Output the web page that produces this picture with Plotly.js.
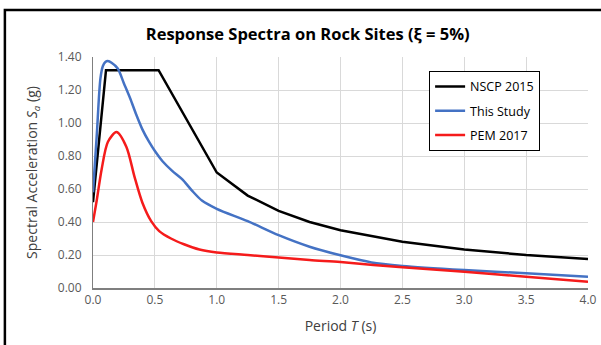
<!DOCTYPE html>
<html>
<head>
<meta charset="utf-8">
<script src="https://cdn.plot.ly/plotly-3.0.1.min.js"></script>
<style>html,body{margin:0;padding:0;background:#fff;}#chart{width:601px;height:345px;}</style>
</head>
<body>
<div id="chart"></div>
<script>
var nscpT  = [0, 0.105, 0.53, 1.0, 1.25, 1.5, 1.75, 2.0, 2.5, 3.0, 3.5, 4.0];
var nscpSa = [0.52, 1.32, 1.32, 0.70, 0.56, 0.467, 0.40, 0.35, 0.28, 0.233, 0.20, 0.176];

var studyT  = [0, 0.03, 0.06, 0.08, 0.10, 0.12, 0.15, 0.20, 0.25, 0.30, 0.35, 0.40, 0.45, 0.50, 0.56, 0.64, 0.72, 0.80, 0.88, 1.0, 1.25, 1.5, 1.75, 2.0, 2.25, 2.5, 3.0, 3.5, 4.0];
var studySa = [0.58, 0.92, 1.27, 1.345, 1.37, 1.375, 1.365, 1.33, 1.24, 1.15, 1.05, 0.96, 0.89, 0.83, 0.77, 0.71, 0.66, 0.59, 0.53, 0.48, 0.405, 0.32, 0.25, 0.198, 0.155, 0.134, 0.109, 0.089, 0.068];

var pemT  = [0, 0.03, 0.07, 0.12, 0.19, 0.27, 0.335, 0.40, 0.47, 0.535, 0.63, 0.735, 0.86, 1.0, 1.25, 1.5, 1.75, 2.0, 2.5, 3.0, 3.5, 4.0];
var pemSa = [0.40, 0.53, 0.72, 0.885, 0.945, 0.855, 0.675, 0.515, 0.405, 0.345, 0.30, 0.265, 0.233, 0.215, 0.20, 0.185, 0.169, 0.157, 0.125, 0.099, 0.068, 0.038];

var xTicks = [0, 0.5, 1.0, 1.5, 2.0, 2.5, 3.0, 3.5, 4.0];
var yTicks = [0, 0.2, 0.4, 0.6, 0.8, 1.0, 1.2, 1.4];

var fontFam = '"Open Sans", "Noto Sans", sans-serif';

var traces = [
  {x: nscpT, y: nscpSa, name: 'NSCP 2015', legendgroup: 'a', mode: 'lines', line: {color: '#000000', width: 2.5}},
  {x: studyT, y: studySa, name: 'This Study', legendgroup: 'b', mode: 'lines', line: {color: '#4472C4', width: 2.5, shape: 'spline', smoothing: 0.8}},
  {x: pemT, y: pemSa, name: 'PEM 2017', legendgroup: 'c', mode: 'lines', line: {color: '#F51B1B', width: 2.5, shape: 'spline', smoothing: 0.8}}
];

var layout = {
  width: 601, height: 345,
  margin: {l: 93, r: 13, t: 57, b: 57},
  paper_bgcolor: '#ffffff', plot_bgcolor: '#ffffff',
  font: {family: fontFam, color: '#404040', size: 12},
  title: {
    text: '<b>Response Spectra on Rock Sites (ξ = 5%)</b>',
    x: 0.512, xanchor: 'center', y: 0.9, yanchor: 'middle',
    font: {family: fontFam, size: 16.5, color: '#000000'}
  },
  xaxis: {
    range: [0, 4.0], tickvals: xTicks, tickformat: '.1f',
    showgrid: true, gridcolor: '#d9d9d9', gridwidth: 1,
    showline: true, linecolor: '#7f7f7f', linewidth: 1.5,
    zeroline: false, ticks: '', tickfont: {size: 12, color: '#595959'},
    title: {text: 'Period <i>T</i> (s)', font: {size: 14, color: '#404040'}, standoff: 14}
  },
  yaxis: {
    range: [0, 1.4], tickvals: yTicks, tickformat: '.2f',
    showgrid: true, gridcolor: '#d9d9d9', gridwidth: 1,
    showline: true, linecolor: '#7f7f7f', linewidth: 1,
    zeroline: false, ticks: '', tickfont: {size: 12, color: '#595959'},
    ticklabelstandoff: 8,
    title: {text: 'Spectral Acceleration <i>S</i><sub><i>a</i></sub> (g)', font: {size: 14, color: '#404040'}, standoff: 16}
  },
  legend: {
    x: 0.679, y: 0.94, xanchor: 'left', yanchor: 'top',
    bgcolor: '#ffffff', bordercolor: '#000000', borderwidth: 1,
    font: {size: 12.5, color: '#000000'},
    tracegroupgap: 5, traceorder: 'grouped'
  },
  showlegend: true,
  shapes: [
    {type: 'rect', xref: 'paper', yref: 'paper', x0: -0.178, x1: 1.06, y0: -0.28, y1: 1.203,
     line: {color: '#000000', width: 2.5}, fillcolor: 'rgba(0,0,0,0)', layer: 'above'}
  ]
};

Plotly.newPlot('chart', traces, layout, {displayModeBar: false, staticPlot: true});
</script>
</body>
</html>
